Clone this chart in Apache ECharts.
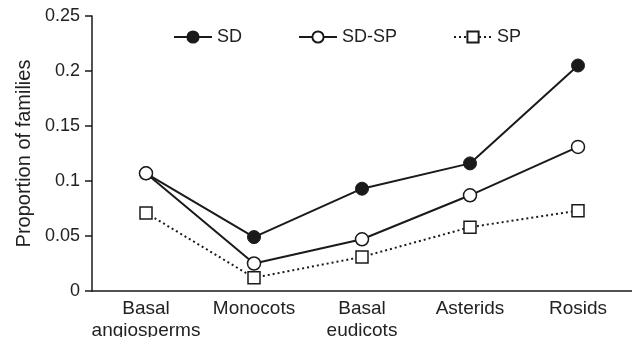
<!DOCTYPE html>
<html><head><meta charset="utf-8">
<script src="https://cdn.jsdelivr.net/npm/echarts@6/dist/echarts.min.js"></script>
<style>html,body{margin:0;padding:0;background:#fff}#c{width:632px;height:337px}</style>
</head><body><div id="c"></div>
<script>
var categories = ['Basal\nangiosperms', 'Monocots', 'Basal\neudicots', 'Asterids', 'Rosids'];
var sdValues = [0.107, 0.049, 0.093, 0.116, 0.205];
var sdspValues = [0.107, 0.025, 0.047, 0.087, 0.131];
var spValues = [0.071, 0.012, 0.031, 0.058, 0.073];
var yTicks = [0, 0.05, 0.1, 0.15, 0.2, 0.25];

var font = 'Liberation Sans, Arial, sans-serif';
var ink = '#1a1a1a';
var chart = echarts.init(document.getElementById('c'), null, {renderer: 'canvas'});
chart.setOption({
  animation: false,
  grid: {left: 92, right: 0, top: 16, bottom: 46, containLabel: false, outerBoundsMode: 'none'},
  legend: {
    left: 168, top: 23, itemWidth: 38, itemHeight: 14, itemGap: 56,
    textStyle: {fontFamily: font, fontSize: 18, color: '#222'},
    data: ['SD', 'SD-SP', 'SP']
  },
  xAxis: {
    type: 'category', data: categories, boundaryGap: true,
    axisLine: {lineStyle: {color: ink, width: 1.5}},
    axisTick: {show: false},
    axisLabel: {fontFamily: font, fontSize: 19, color: '#222', lineHeight: 22, margin: 7, interval: 0}
  },
  yAxis: {
    type: 'value', min: 0, max: 0.25, interval: 0.05,
    name: 'Proportion of families', nameLocation: 'middle', nameGap: 58,
    nameTextStyle: {fontFamily: font, fontSize: 20, color: '#222'},
    axisLine: {show: true, lineStyle: {color: ink, width: 1.5}},
    axisTick: {show: true, length: 7, lineStyle: {color: ink, width: 1.5}},
    splitLine: {show: false},
    axisLabel: {fontFamily: font, fontSize: 18, color: '#222', margin: 12,
      formatter: function (v) { var r = yTicks.find(function(t){return Math.abs(t-v)<1e-9;}); return String(r); }}
  },
  series: [
    {name: 'SD', type: 'line', data: sdValues, symbol: 'circle', symbolSize: 13,
     lineStyle: {color: ink, width: 2}, itemStyle: {color: ink, borderColor: ink, borderWidth: 1}, z: 3},
    {name: 'SD-SP', type: 'line', data: sdspValues, symbol: 'circle', symbolSize: 13,
     lineStyle: {color: ink, width: 2}, itemStyle: {color: '#fff', borderColor: ink, borderWidth: 1.5}, z: 4},
    {name: 'SP', type: 'line', data: spValues, symbol: 'rect', symbolSize: 12,
     lineStyle: {color: ink, width: 2, type: [2, 3]}, itemStyle: {color: '#fff', borderColor: ink, borderWidth: 1.5}, z: 2}
  ]
});
</script></body></html>
